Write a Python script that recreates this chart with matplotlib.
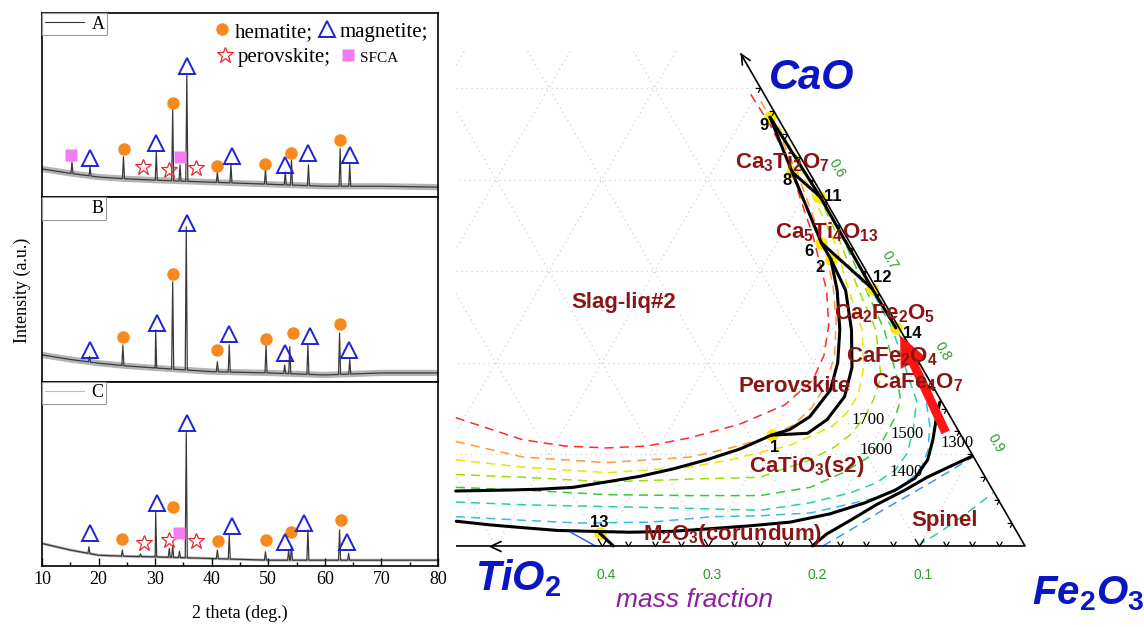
import numpy as np
import matplotlib
matplotlib.use('Agg')
import matplotlib.pyplot as plt
from matplotlib.lines import Line2D
from matplotlib.path import Path
from matplotlib.patches import Rectangle
from matplotlib.transforms import Affine2D

plt.rcParams.update({
    'font.family': 'Liberation Serif',
    'mathtext.fontset': 'custom',
    'mathtext.rm': 'Liberation Sans:bold',
    'mathtext.it': 'Liberation Sans:bold:italic',
    'mathtext.bf': 'Liberation Sans:bold',
})

# ---------------- XRD data (2theta deg, intensity as % of panel height) ----------------
base_2t = [10, 15, 20, 25, 30, 40, 50, 60, 70, 80]
base_a = [15.4, 13, 11, 10, 9.3, 8.2, 7.1, 6.0, 6.0, 5.5]
base_b = [14.5, 12, 10, 8.5, 7.4, 5.4, 4.7, 3.6, 4.7, 4.7]
base_c = [12.2, 8.6, 5.8, 5.2, 4.9, 4.0, 3.1, 3.1, 3.1, 3.1]

peak_a_2t = [15.3, 18.5, 24.4, 30.2, 33.1, 34.4, 35.6, 41.0, 43.4, 49.5, 53.0, 54.1, 57.1, 62.7, 64.4]
peak_a_int = [19.2, 16.5, 22, 24.7, 47.8, 17.6, 67, 13.7, 17.6, 15.4, 13.7, 20.3, 17.6, 26.4, 18.1]
peak_b_2t = [18.4, 24.3, 30.1, 33.1, 35.5, 41.0, 43.1, 49.6, 52.9, 53.8, 57.0, 62.6, 64.4]
peak_b_int = [13.6, 19.9, 28, 54.2, 84, 10.8, 19.9, 19.9, 9, 19, 19.9, 26.4, 12]
peak_c_2t = [18.3, 24.2, 27.4, 30.1, 32.5, 33.1, 34.3, 35.5, 41.0, 43.1, 49.5, 53.6, 54.1, 57.0, 62.6, 64.2]
peak_c_int = [10.4, 8.6, 6.5, 29.5, 9.5, 10.9, 8, 72.3, 8.6, 16.8, 7.7, 8.6, 10.9, 19.5, 19.5, 6.8]

# phase markers: (2theta, height)
hem_a = ([24.5, 33.1, 41.0, 49.5, 54.1, 62.7], [26.4, 51.1, 17, 18.1, 24.2, 31.3])
mag_a = ([18.5, 30.2, 35.6, 43.6, 53.0, 57.1, 64.4], [21.4, 29.7, 71.4, 22.5, 17.6, 24.2, 23.1])
per_a = ([27.8, 32.5, 37.3], [16.5, 14.8, 15.9])
sfca_a = ([15.2, 34.4], [23.1, 22])
hem_b = ([24.3, 33.2, 41.0, 49.6, 54.4, 62.6], [24.4, 58.4, 17.2, 23.3, 26.6, 31.3])
mag_b = ([18.5, 30.4, 35.7, 43.1, 52.9, 57.4, 64.3], [17.2, 32, 85.9, 25.9, 15.7, 24.9, 17.2])
hem_c = ([24.2, 33.2, 41.1, 49.6, 54.1, 62.8], [14.8, 32.2, 13.5, 14, 18.6, 25])
mag_c = ([18.5, 30.4, 35.7, 43.5, 52.9, 56.3, 64.0], [18, 34.4, 77.4, 21.7, 13.1, 23.5, 13.1])
per_c = ([28.0, 32.5, 37.3], [12.2, 14, 13.5])
sfca_c = ([34.2], [17.7])

sample_names = ['A', 'B', 'C']

# ---------------- phase diagram data, points as (TiO2, CaO) mass fractions ----------------
inv_id = ['1', '2', '6', '8', '9', '11', '12', '13', '14']
inv_tio2 = [0.179, 0.027, 0.027, 0.016, 0.007, 0.003, 0.004, 0.395, 0.003]
inv_cao = [0.121, 0.313, 0.331, 0.408, 0.468, 0.381, 0.281, 0.014, 0.238]

bound_9_11 = [(0.007, 0.468), (0.003, 0.381)]
bound_9_8 = [(0.007, 0.468), (0.016, 0.408)]
bound_8_11 = [(0.016, 0.408), (0.003, 0.381)]
bound_8_6 = [(0.016, 0.408), (0.027, 0.331)]
bound_6_12 = [(0.027, 0.331), (0.004, 0.281)]
bound_6_2 = [(0.027, 0.331), (0.027, 0.313)]
bound_edge = [(0.003, 0.381), (0.004, 0.281), (0.003, 0.238)]
bound_2_1_in = [(0.027, 0.313), (0.038, 0.279), (0.057, 0.236), (0.077, 0.200), (0.099, 0.170),
                (0.133, 0.141), (0.159, 0.127), (0.179, 0.121)]
bound_2_1_out = [(0.027, 0.313), (0.030, 0.279), (0.046, 0.236), (0.066, 0.195), (0.089, 0.163),
                 (0.118, 0.138), (0.144, 0.123), (0.179, 0.121)]
bound_perov = [(0.179, 0.121), (0.216, 0.106), (0.254, 0.094), (0.291, 0.084), (0.326, 0.076),
               (0.360, 0.070), (0.395, 0.064), (0.427, 0.062), (0.459, 0.061), (0.508, 0.060)]
bound_corundum = [(0.524, 0.027), (0.494, 0.023), (0.465, 0.020), (0.434, 0.017), (0.403, 0.016),
                  (0.366, 0.015), (0.325, 0.016), (0.286, 0.019), (0.249, 0.022), (0.209, 0.026),
                  (0.167, 0.035), (0.128, 0.047), (0.092, 0.061), (0.067, 0.074), (0.045, 0.094),
                  (0.029, 0.116), (0.015, 0.138), (0.002, 0.157)]
bound_spinel = [(0.201, 0.0), (0.181, 0.013), (0.151, 0.028), (0.118, 0.045), (0.083, 0.061),
                (0.055, 0.075), (0.027, 0.087), (0.001, 0.098)]
bound_13 = [(0.395, 0.014), (0.389, 0.0)]
blue_13 = [(0.422, 0.015), (0.406, 0.0)]

iso_red = [(0.468, 0.140), (0.417, 0.116), (0.380, 0.109), (0.342, 0.107), (0.303, 0.109),
           (0.258, 0.118), (0.203, 0.133), (0.150, 0.154), (0.110, 0.181), (0.086, 0.208),
           (0.065, 0.241), (0.048, 0.279), (0.031, 0.339), (0.023, 0.378), (0.014, 0.416),
           (0.011, 0.459), (0.013, 0.498)]
iso_orange = [(0.481, 0.114), (0.426, 0.097), (0.350, 0.091), (0.268, 0.097), (0.225, 0.107),
              (0.185, 0.118), (0.153, 0.132), (0.126, 0.151), (0.100, 0.176), (0.076, 0.208),
              (0.055, 0.247), (0.039, 0.285), (0.029, 0.318), (0.021, 0.356), (0.012, 0.405),
              (0.007, 0.454), (0.007, 0.487)]
iso_yellow = [(0.491, 0.094), (0.431, 0.086), (0.355, 0.080), (0.274, 0.086), (0.232, 0.094),
              (0.167, 0.110), (0.118, 0.130), (0.096, 0.145), (0.075, 0.165), (0.055, 0.195),
              (0.036, 0.236), (0.026, 0.283), (0.014, 0.331), (0.010, 0.378), (0.004, 0.427),
              (0.004, 0.460)]
iso_1700 = [(0.499, 0.078), (0.437, 0.075), (0.360, 0.070), (0.280, 0.073), (0.213, 0.075),
            (0.156, 0.094), (0.126, 0.108), (0.102, 0.123), (0.079, 0.143), (0.064, 0.159),
            (0.044, 0.184), (0.023, 0.236), (0.017, 0.283), (0.008, 0.337), (0.004, 0.383),
            (0.003, 0.432)]
iso_1600 = [(0.506, 0.064), (0.444, 0.061), (0.367, 0.056), (0.289, 0.055), (0.223, 0.055),
            (0.171, 0.064), (0.132, 0.080), (0.101, 0.096), (0.076, 0.116), (0.053, 0.140),
            (0.038, 0.159), (0.029, 0.184), (0.015, 0.236), (0.010, 0.283), (0.004, 0.337),
            (0.002, 0.383)]
iso_1500 = [(0.514, 0.048), (0.452, 0.045), (0.374, 0.043), (0.296, 0.041), (0.231, 0.039),
            (0.180, 0.047), (0.136, 0.058), (0.106, 0.069), (0.081, 0.083), (0.061, 0.101),
            (0.042, 0.127), (0.023, 0.159), (0.018, 0.184), (0.007, 0.236), (0.005, 0.283),
            (0.002, 0.337)]
iso_1400 = [(0.522, 0.032), (0.460, 0.028), (0.408, 0.025), (0.341, 0.026), (0.279, 0.032),
            (0.234, 0.033), (0.185, 0.036), (0.142, 0.046), (0.113, 0.053), (0.089, 0.063),
            (0.070, 0.074), (0.054, 0.087), (0.039, 0.105), (0.024, 0.132), (0.014, 0.159),
            (0.009, 0.184), (0.003, 0.236)]
iso_1300_spinel = [(0.191, 0.0), (0.157, 0.017), (0.119, 0.037), (0.081, 0.056), (0.043, 0.075),
                   (0.001, 0.097)]
iso_1400_spinel = [(0.102, 0.0), (0.073, 0.015), (0.040, 0.034), (0.001, 0.058)]

iso_text = ['1700', '1600', '1500', '1400', '1300']
iso_text_tio2 = [0.079, 0.088, 0.050, 0.072, 0.008]
iso_text_cao = [0.138, 0.105, 0.122, 0.081, 0.112]

phase_text = ['Slag-liq#2', r'Ca$_3$Ti$_2$O$_7$', r'Ca$_5$Ti$_4$O$_{13}$', r'Ca$_2$Fe$_2$O$_5$',
              r'CaFe$_2$O$_4$', r'CaFe$_4$O$_7$', 'Perovskite', r'CaTiO$_3$(s2)',
              r'M$_2$O$_3$(corundum)', 'Spinel']
phase_tio2 = [0.246, 0.020, 0.016, 0.006, 0.022, 0.012, 0.131, 0.163, 0.270, 0.062]
phase_cao = [0.266, 0.419, 0.342, 0.253, 0.207, 0.178, 0.174, 0.087, 0.012, 0.028]

path_arrow = [(0.013, 0.124), (0.003, 0.230)]   # composition path (red arrow)
axis_end = 0.537
tio2_ticks = [0.4, 0.3, 0.2, 0.1]
fe2o3_ticks = [0.6, 0.7, 0.8, 0.9]

SQ3 = np.sqrt(3) / 2


def tern(pts):
    t = np.array([p[0] for p in pts], dtype=float)
    c = np.array([p[1] for p in pts], dtype=float)
    return 1 - t - c / 2, c * SQ3


def tpt(t, c):
    return float(1 - t - c / 2), float(c * SQ3)


def trace(base, pos, height, hw=0.18):
    xs, ys = list(base_2t), list(base)
    for p, h in zip(pos, height):
        for x in (p - hw, p + hw):
            xs.append(x)
            ys.append(np.interp(x, base_2t, base))
        xs.append(p)
        ys.append(h)
    order = np.argsort(xs)
    return np.array(xs)[order], np.array(ys)[order]


fig = plt.figure(figsize=(11.44, 6.27), dpi=100)

# ================= left: XRD patterns =================
panels = [
    (base_a, peak_a_2t, peak_a_int, hem_a, mag_a, per_a, sfca_a),
    (base_b, peak_b_2t, peak_b_int, hem_b, mag_b, None, None),
    (base_c, peak_c_2t, peak_c_int, hem_c, mag_c, per_c, sfca_c),
]
band_w = [4.5, 4.5, 2.0]
name_line = ['#333333', 'white', '#bbbbbb']
H = 184.3


def mk(kind):
    if kind == 'hem':
        return dict(ls='none', marker='o', ms=9, color='#f7891f', mec='none')
    if kind == 'mag':
        return dict(ls='none', marker='^', ms=12, mfc='none', mec='#1e22d8', mew=1.4)
    if kind == 'per':
        return dict(ls='none', marker='*', ms=12, mfc='none', mec='#e8282c', mew=0.9)
    return dict(ls='none', marker='s', ms=8, color='#f27cf0', mec='none')


for n, (base, p2t, pint, hem, mag, per, sfca) in enumerate(panels):
    top = 13 + n * H
    ax = fig.add_axes([42 / 1144, 1 - (top + H) / 627, 396 / 1144, H / 627])
    ax.set_xlim(10, 80)
    ax.set_ylim(0, 100)
    ax.set_yticks([])
    ax.plot(base_2t, base, color='#6a6a6a', lw=band_w[n], alpha=0.5, zorder=1)
    x, y = trace(base, p2t, pint)
    ax.plot(x, y, color='#3a3a3a', lw=0.9, zorder=2)
    ax.plot(*hem, zorder=4, **mk('hem'))
    ax.plot(*mag, zorder=4, **mk('mag'))
    if per is not None:
        ax.plot(*per, zorder=4, **mk('per'))
    if sfca is not None:
        ax.plot(*sfca, zorder=4, **mk('sfca'))
    for s in ax.spines.values():
        s.set_linewidth(1.2)
    leg = ax.legend([Line2D([], [], color=name_line[n], lw=0.8)], [sample_names[n]],
                    loc='upper left', borderaxespad=0, handlelength=2.2, handletextpad=0.4,
                    fancybox=False, edgecolor='#999999', framealpha=1, fontsize=13,
                    borderpad=0.15)
    leg.get_frame().set_linewidth(0.8)
    if n == 0:
        ax.add_artist(leg)
        row1 = ax.legend([Line2D([], [], **mk('hem')), Line2D([], [], **mk('mag'))],
                         ['hematite;', 'magnetite;'], ncol=2, loc='center right',
                         bbox_to_anchor=(0.975, 0.897), frameon=False, fontsize=15,
                         handlelength=0.7, handletextpad=0.25, columnspacing=0.35,
                         borderpad=0, borderaxespad=0)
        ax.add_artist(row1)
        row2 = ax.legend([Line2D([], [], **mk('per')), Line2D([], [], **mk('sfca'))],
                         ['perovskite;', 'SFCA'], ncol=2, loc='center right',
                         bbox_to_anchor=(0.9, 0.761), frameon=False, fontsize=15,
                         handlelength=0.7, handletextpad=0.25, columnspacing=0.45,
                         borderpad=0, borderaxespad=0)
        row2.get_texts()[1].set_fontsize(11)
    if n < 2:
        ax.set_xticks([])
    else:
        ax.set_xticks(range(10, 81, 10))
        ax.set_xticks(range(15, 80, 10), minor=True)
        ax.tick_params(direction='in', which='both', labelsize=13, width=1)
        ax.tick_params(which='major', length=6)
        ax.tick_params(which='minor', length=3)
        ax.set_xlabel('2 theta (deg.)', fontsize=13, labelpad=12)

fig.text(22 / 1144, 1 - 290 / 627, 'Intensity (a.u.)', rotation=90, fontsize=13,
         ha='center', va='center')

# ================= right: CaO-TiO2-Fe2O3 phase diagram =================
axt = fig.add_axes([440 / 1144, 0, 704 / 1144, 1])
axt.set_xlim(0.4471, 1.1125)
axt.set_ylim(-0.0766, 0.5161)
axt.axis('off')

frame = Rectangle((0.462, -0.01), 0.7, 0.479, transform=axt.transData, fill=False, lw=0)
grid_kw = dict(color='#d2d2d2', lw=0.9, dashes=(1, 3), zorder=0)
for k in np.arange(0.1, 0.95, 0.1):
    for seg in ([(1 - k, k), (0, k)], [(k, 1 - k), (k, 0)], [(1 - k, 0), (0, 1 - k)]):
        ln, = axt.plot(*tern(seg), **grid_kw)
        ln.set_clip_path(frame)

dash = (0, (6, 4))
iso_lines = [(iso_red, '#ff2a2a'), (iso_orange, '#ff9933'), (iso_yellow, '#e6e600'),
             (iso_1700, '#99e000'), (iso_1600, '#33cc33'), (iso_1500, '#22d4a0'),
             (iso_1400, '#33bbee'), (iso_1300_spinel, '#3399ff'), (iso_1400_spinel, '#22d4a0')]
for pts, col in iso_lines:
    axt.plot(*tern(pts), color=col, lw=1.1, ls=dash, zorder=2)

# yellow invariant points
ix, iy = tern(list(zip(inv_tio2, inv_cao)))
axt.plot(ix, iy, ls='none', marker='o', ms=9, color='#ffe600', mec='none', zorder=3)

for pts in [bound_9_11, bound_9_8, bound_8_11, bound_8_6, bound_6_12, bound_6_2, bound_edge,
            bound_2_1_in, bound_2_1_out, bound_perov, bound_corundum, bound_spinel, bound_13]:
    axt.plot(*tern(pts), color='black', lw=2.2, zorder=4, solid_capstyle='round')
axt.plot(*tern(blue_13), color='#2255ee', lw=1.0, zorder=4)

# triangle edges
axt.plot(*tern([(axis_end, 0), (0, 0), (0, axis_end)]), color='black', lw=1.2, zorder=5)
open_head = Path([(1, 0.47), (0, 0), (1, -0.47)], [Path.MOVETO, Path.LINETO, Path.LINETO])
bx, by = tpt(0.506, 0)
axt.plot(bx, by, ls='none', marker=open_head, ms=16, mfc='none', mec='black', mew=1.2, zorder=5)
tx, ty = tpt(0, axis_end)
axt.plot(tx, ty, ls='none', marker=Affine2D().rotate_deg(-60).transform_path(open_head),
         ms=16, mfc='none', mec='black', mew=1.2, zorder=5)

# edge ticks
vee = Path([(-0.6, 1), (0, 0), (0.6, 1)], [Path.MOVETO, Path.LINETO, Path.LINETO])
vee_r = Affine2D().rotate_deg(120).transform_path(vee)
steps = np.arange(1, 17) * 0.025
big = np.isclose(steps * 10, np.round(steps * 10))
for mask, ms in [(~big, 7), (big, 11)]:
    axt.plot(*tern([(s, 0) for s in steps[mask]]), ls='none', marker=vee, ms=ms,
             mfc='none', mec='black', mew=0.9, zorder=5)
csteps = np.arange(1, 21) * 0.025
axt.plot(*tern([(0, s) for s in csteps]), ls='none', marker=vee_r, ms=7,
         mfc='none', mec='black', mew=0.9, zorder=5)

tick_col = '#2a9a2a'
for v in tio2_ticks:
    axt.annotate(f'{v:.1f}', tpt(v, 0), xytext=(3, -21), textcoords='offset points',
                 ha='center', va='center', fontsize=10, color=tick_col,
                 family='Liberation Sans')
for v in fe2o3_ticks:
    axt.annotate(f'{v:.1f}', tpt(0, 1 - v), xytext=(17, 8), textcoords='offset points',
                 ha='center', va='center', fontsize=10, color=tick_col, rotation=-60,
                 family='Liberation Sans')

# red composition arrow
x0, y0 = tpt(*path_arrow[0])
x1, y1 = tpt(*path_arrow[1])
axt.arrow(x0, y0, x1 - x0, y1 - y0, width=0.0085, head_width=0.026, head_length=0.029,
          length_includes_head=True, color='#ff1414', lw=0, zorder=6)

# labels
for s, t, c in zip(phase_text, phase_tio2, phase_cao):
    axt.text(*tpt(t, c), s, ha='center', va='center', fontsize=16, color='#8b1414',
             family='Liberation Sans', fontweight='bold', zorder=7)
for s, t, c in zip(iso_text, iso_text_tio2, iso_text_cao):
    axt.text(*tpt(t, c), s, ha='center', va='center', fontsize=12, color='black',
             family='Liberation Serif', zorder=7)
inv_off = [(2, -9), (-8, -6), (-9, -6), (-4, -6), (-4, -6), (9, 0), (7, 8), (0, 8), (12, -4)]
for s, x, y, off in zip(inv_id, ix, iy, inv_off):
    axt.annotate(s, (float(x), float(y)), xytext=off, textcoords='offset points', ha='center',
                 va='center', fontsize=12, fontweight='bold', family='Liberation Sans', zorder=7)

blue = '#0a16c4'
axt.text(0.528, 0.876, 'CaO', transform=axt.transAxes, ha='center', va='center', fontsize=30,
         color=blue, family='Liberation Sans', fontweight='bold', style='italic')
axt.text(0.112, 0.078, r'TiO$_2$', transform=axt.transAxes, ha='center', va='center',
         fontsize=30, color=blue, family='Liberation Sans', fontweight='bold', style='italic')
axt.text(0.921, 0.053, r'Fe$_2$O$_3$', transform=axt.transAxes, ha='center', va='center',
         fontsize=29, color=blue, family='Liberation Sans', fontweight='bold', style='italic')
axt.text(0.361, 0.043, 'mass fraction', transform=axt.transAxes, ha='center', va='center',
         fontsize=19, color='#8e1e9e', family='Liberation Sans', style='italic')

fig.savefig('out.png', dpi=100, facecolor='white')
